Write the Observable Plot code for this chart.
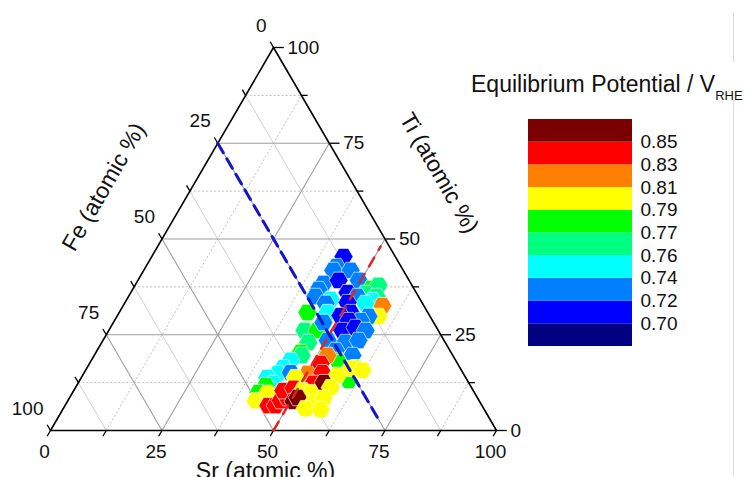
<!DOCTYPE html>
<html><head><meta charset="utf-8">
<script src="https://cdn.jsdelivr.net/npm/d3@7"></script>
<script src="https://cdn.jsdelivr.net/npm/@observablehq/plot@0.6"></script>
<style>
html,body{margin:0;padding:0;background:#fff;overflow:hidden;}
#wrap{position:relative;width:747px;height:477px;overflow:hidden;font-family:"Liberation Sans",Arial,sans-serif;}
#wrap svg{position:absolute;}
.title{position:absolute;left:471px;top:73px;font-size:23px;line-height:23px;white-space:nowrap;color:#111;}
.title span{font-size:13px;position:relative;top:8px;}
.vline{position:absolute;left:733px;width:1px;background:#dcdcdc;}
</style></head><body><div id="wrap">
<div class="vline" style="top:13px;height:49px"></div>
<div class="vline" style="top:100px;height:375px"></div>
<div class="title">Equilibrium Potential / V<span>RHE</span></div>
</div>
<script>
// ---- data (ternary composition in atomic %, Fe = 100 - Sr - Ti) ----
const srValues = [43.0,42.7,42.5,46.4,49.5,42.0,41.7,45.0,53.4,54.6,52.7,55.6,55.3,58.1,58.6,48.6,41.9,45.7,51.3,54.0,49.9,42.2,45.1,46.7,51.9,56.4,55.2,50.0,52.5,43.9,46.8,47.1,52.4,54.9,57.6,46.3,50.4,54.6,57.3,57.9,53.5,
  45.9,46.5,44.7,44.0,43.5,46.3,41.7,43.8,42.4,41.7,55.2,55.7,58.9,60.3,52.3,50.2,51.8,53.4,48.0,60.2,59.2,62.1,57.1,42.1,43.8,45.6,47.2,47.7,48.8,47.0,49.0,52.7,52.8,55.0,57.2,51.3,53.3,50.7,51.1,55.3,54.3,57.0,57.8];
const tiValues = [45.4,42.8,41.8,41.8,39.2,38.4,36.8,39.2,37.1,37.9,35.8,35.0,33.9,32.6,29.8,36.0,35.0,34.2,35.0,33.2,33.4,30.8,33.2,30.8,30.8,29.8,28.7,30.0,28.7,26.1,26.1,28.2,26.1,26.9,26.1,23.0,23.5,23.0,23.5,19.6,20.9,
  20.4,19.6,18.3,16.4,14.9,15.1,13.8,12.3,11.7,9.9,18.3,17.8,14.4,13.1,19.6,14.9,17.5,15.1,13.8,16.4,16.2,15.7,14.4,7.8,9.7,6.5,6.5,7.8,8.6,10.4,11.0,11.2,12.3,12.5,11.2,10.4,9.9,7.6,8.6,7.3,5.7,8.4,5.5];
const potentials = [0.71,0.73,0.73,0.73,0.73,0.73,0.73,0.71,0.78,0.765,0.765,0.765,0.75,0.82,0.80,0.71,0.73,0.75,0.73,0.75,0.71,0.78,0.73,0.75,0.71,0.73,0.73,0.71,0.71,0.765,0.78,0.73,0.71,0.71,0.73,0.765,0.73,0.73,0.73,0.73,0.73,
  0.78,0.765,0.75,0.75,0.75,0.73,0.75,0.75,0.78,0.78,0.78,0.78,0.78,0.78,0.82,0.82,0.84,0.84,0.80,0.80,0.80,0.80,0.80,0.80,0.80,0.84,0.84,0.84,0.84,0.84,0.84,0.84,0.84,0.86,0.80,0.80,0.80,0.86,0.86,0.80,0.80,0.80,0.80];

const majorTicks = [0, 25, 50, 75, 100];
const allTicks = [0, 12.5, 25, 37.5, 50, 62.5, 75, 87.5, 100];
const gridMajor = [25, 50, 75];
const gridMinor = [12.5, 37.5, 62.5, 87.5];
const thresholds = [0.70, 0.72, 0.74, 0.76, 0.77, 0.79, 0.81, 0.83, 0.85];
const thresholdLabels = ["0.70","0.72","0.74","0.76","0.77","0.79","0.81","0.83","0.85"];
const bandColors = ["#000080","#0000ff","#0080ff","#00ffff","#00ff80","#00ff00","#ffff00","#ff8000","#ff0000","#7a0000"];
const feRefLine = {fe: 25, tiFrom: 75, tiTo: 3};
const srRefLine = {sr: 50, tiFrom: 0, tiTo: 48};
const axisTitles = {sr: "Sr (atomic %)", ti: "Ti (atomic %)", fe: "Fe (atomic %)"};

// ---- ternary -> cartesian ----
const S3 = Math.sqrt(3) / 2;
const X = (sr, ti) => sr + ti / 2;
const Y = (sr, ti) => ti * S3;
const seg = (a, b, kind) => ({x1: X(a[0], a[1]), y1: Y(a[0], a[1]), x2: X(b[0], b[1]), y2: Y(b[0], b[1]), kind});

const pts = srValues.map((s, i) => ({sr: s, ti: tiValues[i], v: potentials[i]}));

const grid = [];
for (const v of gridMajor.concat(gridMinor)) {
  const major = gridMajor.includes(v);
  grid.push(seg([0, v], [100 - v, v], major ? "M" : "dot"));       // Ti constant
  grid.push(seg([v, 0], [v, 100 - v], major ? "M" : "dot"));       // Sr constant
  grid.push(seg([0, 100 - v], [100 - v, 0], major ? "M" : "lite")); // Fe constant
}
const ticks = [];
for (const v of allTicks) {
  const major = majorTicks.includes(v);
  ticks.push(seg([v, 0], [v, -1.5]));
  ticks.push(seg([0, 100 - v], [-1.5, 100 - v + 1.5]));
  ticks.push(seg([100 - v, v], [100 - v + (major ? 2.3 : 1.4), v]));
}
const corners = [[0, 0], [100, 0], [0, 100], [0, 0]];
const blueLine = [feRefLine.tiFrom, feRefLine.tiTo].map(t => [100 - feRefLine.fe - t, t]);
const redLine = [srRefLine.tiFrom, srRefLine.tiTo].map(t => [srRefLine.sr, t]);

const font = "'Liberation Sans', Arial, sans-serif";
const main = Plot.plot({
  width: 747, height: 477,
  style: {fontFamily: font, background: "white", overflow: "visible"},
  x: {domain: [0, 100], range: [50, 496], axis: null},
  y: {domain: [0, 100 * S3], range: [430, 47], axis: null},
  color: {type: "threshold", domain: thresholds, range: bandColors},
  marks: [
    Plot.link(grid.filter(d => d.kind === "lite"), {x1: "x1", y1: "y1", x2: "x2", y2: "y2", stroke: "#d0d0d0", strokeWidth: 1}),
    Plot.link(grid.filter(d => d.kind === "dot"), {x1: "x1", y1: "y1", x2: "x2", y2: "y2", stroke: "#c0c0c0", strokeWidth: 1, strokeDasharray: "2,2"}),
    Plot.link(grid.filter(d => d.kind === "M"), {x1: "x1", y1: "y1", x2: "x2", y2: "y2", stroke: "#9e9e9e", strokeWidth: 1.1}),
    Plot.link(ticks, {x1: "x1", y1: "y1", x2: "x2", y2: "y2", stroke: "#000", strokeWidth: 1.3}),
    Plot.line(corners, {x: d => X(d[0], d[1]), y: d => Y(d[0], d[1]), stroke: "#000", strokeWidth: 1.6}),
    Plot.dot(pts, {x: d => X(d.sr, d.ti), y: d => Y(d.sr, d.ti), fill: "v", symbol: "hexagon", r: 8.2, rotate: 30, stroke: "white", strokeWidth: 0.7, strokeOpacity: 0.8}),
    Plot.line(blueLine, {x: d => X(d[0], d[1]), y: d => Y(d[0], d[1]), stroke: "#1414c8", strokeWidth: 3, strokeDasharray: "11,7"}),
    Plot.line(redLine, {x: d => X(d[0], d[1]), y: d => Y(d[0], d[1]), stroke: "#e02424", strokeWidth: 2.5, strokeDasharray: "10,9"}),
    Plot.text(majorTicks, {x: d => X(d, 0), y: d => Y(d, 0), text: d => String(d), dx: -6, dy: 21, fontSize: 19, fill: "#111"}),
    Plot.text(majorTicks, {x: d => X(100 - d, d), y: d => Y(100 - d, d), text: d => String(d), textAnchor: "start", dx: 14, fontSize: 19, fill: "#111"}),
    Plot.text(majorTicks, {x: d => X(0, 100 - d), y: d => Y(0, 100 - d), text: d => String(d), textAnchor: "end", dx: -7, dy: -22, fontSize: 19, fill: "#111"}),
    Plot.text([axisTitles.sr], {x: () => X(50, 0), y: () => Y(50, 0), text: d => d, dx: -8, dy: 41, fontSize: 23, fill: "#111"}),
    Plot.text([axisTitles.fe], {x: () => X(0, 50), y: () => Y(0, 50), text: d => d, dx: -58, dy: -52, rotate: -60, fontSize: 23, fill: "#111"}),
    Plot.text([axisTitles.ti], {x: () => X(50, 50), y: () => Y(50, 50), text: d => d, dx: 54, dy: -66, rotate: 60, fontSize: 23, fill: "#111"})
  ]
});
main.style.left = "0px"; main.style.top = "0px";
document.getElementById("wrap").prepend(main);

const bands = bandColors.map((c, i) => ({i, c}));
const labels = thresholdLabels.map((l, k) => ({k: k + 1, l}));
const legend = Plot.plot({
  width: 200, height: 250,
  style: {fontFamily: font, background: "transparent", overflow: "visible"},
  x: {domain: [0, 1], range: [8, 112], axis: null},
  y: {domain: [0, 10], range: [236, 9], axis: null},
  color: {type: "identity"},
  marks: [
    Plot.rect(bands, {x1: () => 0, x2: () => 1, y1: "i", y2: d => d.i + 1, fill: "c"}),
    Plot.text(labels, {x: () => 1, y: "k", text: "l", textAnchor: "start", dx: 8, fontSize: 19, fill: "#111"})
  ]
});
legend.style.left = "520px"; legend.style.top = "110px";
document.getElementById("wrap").appendChild(legend);
</script>
</body></html>
